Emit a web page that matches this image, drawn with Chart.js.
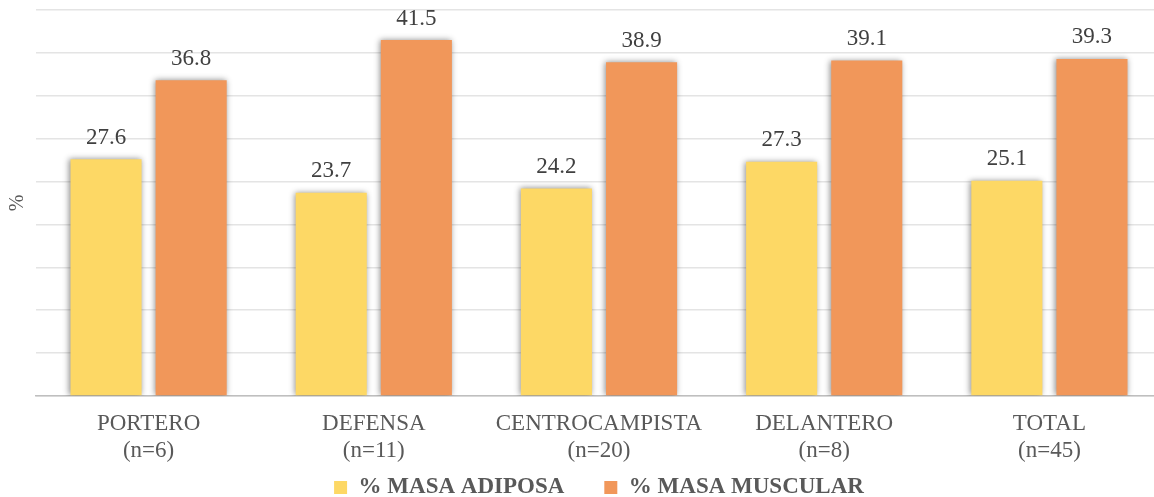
<!DOCTYPE html>
<html>
<head>
<meta charset="utf-8">
<script src="https://cdn.jsdelivr.net/npm/chart.js@4/dist/chart.umd.min.js"></script>
<style>
  html, body { margin: 0; padding: 0; background: #fff; overflow: hidden; }
  #wrap { width: 1162px; height: 509px; }
</style>
</head>
<body>
<div id="wrap"><canvas id="chart"></canvas></div>
<script>
var categories = ["PORTERO", "DEFENSA", "CENTROCAMPISTA", "DELANTERO", "TOTAL"];
var sampleSizes = ["(n=6)", "(n=11)", "(n=20)", "(n=8)", "(n=45)"];
var masaAdiposa = [27.6, 23.7, 24.2, 27.3, 25.1];
var masaMuscular = [36.8, 41.5, 38.9, 39.1, 39.3];
var seriesNames = ["% MASA ADIPOSA", "% MASA MUSCULAR"];

var labels = categories.map(function (c, i) { return [c, sampleSizes[i]]; });
var serif = "'Liberation Serif', 'Times New Roman', serif";

// soft grey shadow behind every bar
var barShadow = {
  id: "barShadow",
  beforeDatasetsDraw: function (chart) {
    var ctx = chart.ctx;
    ctx.save();
    ctx.shadowColor = "rgba(0,0,0,0.45)";
    ctx.shadowBlur = 6;
    ctx.shadowOffsetX = -1;
    ctx.shadowOffsetY = 0;
  },
  afterDatasetsDraw: function (chart) {
    chart.ctx.restore();
  }
};

// value printed above each bar
var valueLabels = {
  id: "valueLabels",
  afterDatasetsDraw: function (chart) {
    var ctx = chart.ctx;
    ctx.save();
    ctx.font = "23px " + serif;
    ctx.fillStyle = "#404040";
    ctx.textAlign = "center";
    ctx.textBaseline = "bottom";
    chart.data.datasets.forEach(function (ds, di) {
      chart.getDatasetMeta(di).data.forEach(function (bar, i) {
        ctx.fillText(ds.data[i].toFixed(1), bar.x, bar.y - 10);
      });
    });
    ctx.restore();
  }
};

// the x axis is kept short so the legend sits close below it;
// let its two-line labels run past the axis box instead of being clipped
var xLabelRoom = {
  id: "xLabelRoom",
  afterLayout: function (chart) {
    chart.scales.x.bottom = chart.scales.x.top + 80;
  }
};

var chart = new Chart(document.getElementById("chart"), {
  type: "bar",
  data: {
    labels: labels,
    datasets: [
      {
        label: seriesNames[0],
        data: masaAdiposa,
        backgroundColor: "#FDD865",
        categoryPercentage: 0.756,
        barPercentage: 0.835
      },
      {
        label: seriesNames[1],
        data: masaMuscular,
        backgroundColor: "#F1975A",
        categoryPercentage: 0.756,
        barPercentage: 0.835
      }
    ]
  },
  plugins: [barShadow, valueLabels, xLabelRoom],
  options: {
    responsive: true,
    maintainAspectRatio: false,
    animation: false,
    layout: { padding: { top: 10, right: 0, left: 0, bottom: 0 } },
    plugins: {
      legend: {
        position: "bottom",
        fullSize: false,
        labels: {
          font: { family: serif, size: 23, weight: "bold" },
          color: "#595959",
          boxWidth: 13,
          boxHeight: 13,
          padding: 40
        }
      },
      tooltip: { enabled: false }
    },
    scales: {
      x: {
        grid: { display: false },
        border: { color: "#BFBFBF", width: 1.5 },
        ticks: {
          font: { family: serif, size: 23 },
          color: "#595959",
          maxRotation: 0,
          padding: 6
        },
        afterFit: function (axis) { axis.height = 40; }
      },
      y: {
        min: 0,
        max: 45,
        ticks: { display: false, stepSize: 5 },
        grid: { color: "#E4E4E4", lineWidth: 1.5, drawTicks: false },
        border: { display: false },
        title: {
          display: true,
          text: "%",
          font: { family: serif, size: 20 },
          color: "#595959",
          padding: { top: 6, bottom: 0 }
        },
        afterFit: function (axis) { axis.width = 36; }
      }
    }
  }
});
</script>
</body>
</html>
